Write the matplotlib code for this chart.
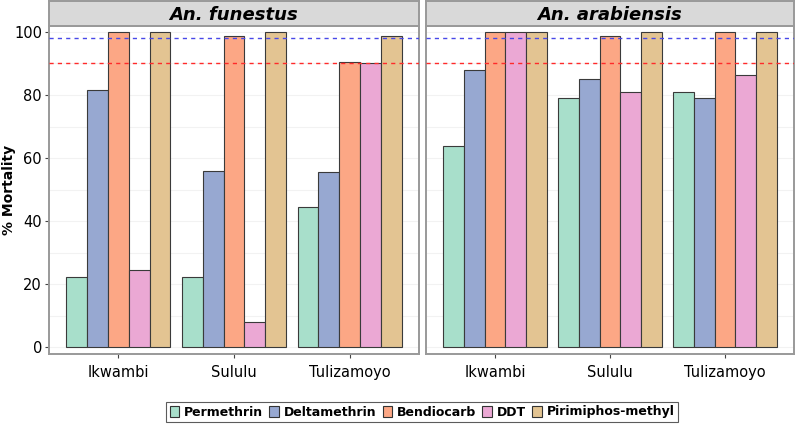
import numpy as np
import matplotlib.pyplot as plt
from matplotlib.patches import Patch

sites = ["Ikwambi", "Sululu", "Tulizamoyo"]
insecticides = ["Permethrin", "Deltamethrin", "Bendiocarb", "DDT", "Pirimiphos-methyl"]
colors = ["#a8dfcb", "#97a8d1", "#fca785", "#eba8d4", "#e3c492"]

# rows: insecticides, cols: sites
funestus = [
    [22.2, 22.2, 44.4],
    [81.5, 55.9, 55.5],
    [100, 98.6, 90.5],
    [24.4, 8.0, 90.0],
    [100, 100, 98.6],
]
arabiensis = [
    [63.9, 78.9, 81.1],
    [88.0, 85.0, 78.9],
    [100, 98.6, 100],
    [100, 81.1, 86.4],
    [100, 100, 100],
]
species = ["An. funestus", "An. arabiensis"]
thresholds = [98, 90]

W, H = 796, 424
plt.rcParams['font.family'] = ['DejaVu Sans']
fig = plt.figure(figsize=(W / 100, H / 100), dpi=100)

panels = [(49, 419), (426, 794)]
top_px, bot_px = 26, 354
x = np.arange(1, len(sites) + 1)
bw = 0.9 / len(insecticides)

for (x0, x1), name, data in zip(panels, species, [funestus, arabiensis]):
    ax = fig.add_axes([x0 / W, 1 - bot_px / H, (x1 - x0) / W, (bot_px - top_px) / H])
    for i, (vals, c) in enumerate(zip(data, colors)):
        ax.bar(x - 0.45 + bw * (i + 0.5), vals, width=bw, color=c,
               edgecolor="#3a3a3a", linewidth=0.8, zorder=3)
    ax.axhline(thresholds[0], color="#4848e8", ls=(0, (3, 3)), lw=1.0, zorder=4)
    ax.axhline(thresholds[1], color="#ff2a2a", ls=(0, (3, 3)), lw=1.0, zorder=4)
    ax.set_xlim(0.4, 3.6)
    ax.set_ylim(-2.2, 101.9)
    ax.set_yticks([0, 20, 40, 60, 80, 100])
    ax.set_yticks(np.arange(10, 100, 20), minor=True)
    ax.grid(True, axis="y", which="both", color="#f2f2f2", lw=0.8, zorder=0)
    ax.set_xticks(x)
    ax.set_xticklabels(sites)
    ax.tick_params(axis="both", which="major", length=3, color="#444444",
                   labelsize=10.5, pad=2)
    ax.tick_params(axis="x", pad=5)
    ax.tick_params(axis="y", which="minor", length=0)
    for s in ax.spines.values():
        s.set_color("#999999")
        s.set_linewidth(1.4)
    if x0 != 49:
        ax.set_yticklabels([])
        ax.tick_params(axis="y", length=0)

    sax = fig.add_axes([x0 / W, 1 - top_px / H, (x1 - x0) / W, 25 / H])
    sax.set_facecolor("#d9d9d9")
    sax.set_xticks([])
    sax.set_yticks([])
    for s in sax.spines.values():
        s.set_color("#999999")
        s.set_linewidth(1.4)
    sax.text(0.5, 0.45, name, ha="center", va="center", fontsize=13,
             fontweight="bold", style="italic", transform=sax.transAxes)

fig.text(9 / W, 1 - 190 / H, "% Mortality", rotation=90, ha="center", va="center",
         fontsize=10, fontweight="bold")

handles = [Patch(facecolor=c, edgecolor="#333333", linewidth=0.8) for c in colors]
leg = fig.legend(handles, insecticides, loc="center", bbox_to_anchor=(422 / W, 1 - 412 / H),
                 ncol=5, frameon=True, handlelength=0.75, handleheight=1.0,
                 handletextpad=0.4, columnspacing=0.5, borderpad=0.3, fancybox=False,
                 edgecolor="#333333", prop={"weight": "bold", "size": 9})
leg.get_frame().set_linewidth(0.8)

fig.savefig("out.png", dpi=100)
